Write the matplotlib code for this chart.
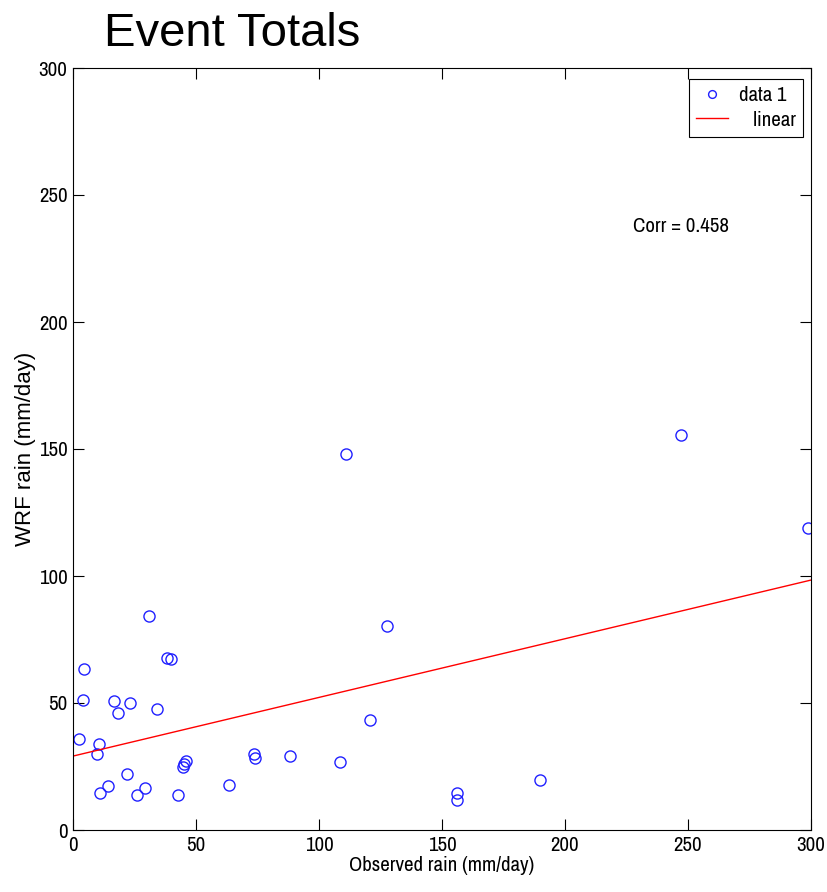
import matplotlib
matplotlib.use("Agg")
import matplotlib.pyplot as plt
import numpy as np
from matplotlib import font_manager as fm

# ---- data ----
obs_rain = [2.4, 4.5, 4.2, 9.8, 10.6, 11.0, 14.2, 16.7, 18.3, 22.0, 23.2, 26.0,
            29.3, 30.9, 34.0, 38.2, 39.8, 42.7, 44.7, 45.1, 46.0, 63.4, 73.6,
            74.0, 88.2, 108.6, 110.9, 120.8, 127.6, 156.0, 156.3, 189.9, 247.0, 298.6]
wrf_rain = [35.8, 63.4, 51.0, 30.0, 34.0, 14.6, 17.3, 50.8, 46.0, 22.0, 50.0, 13.8,
            16.5, 84.3, 47.6, 67.7, 67.3, 13.8, 24.8, 26.0, 27.2, 17.7, 30.0,
            28.3, 29.1, 26.7, 148.0, 43.2, 80.4, 14.5, 11.9, 19.8, 155.4, 118.9]
fit_intercept = 29.1
fit_slope = 0.231
corr_value = 0.458
x_ticks = [0, 50, 100, 150, 200, 250, 300]
y_ticks = [0, 50, 100, 150, 200, 250, 300]

installed = {f.name for f in fm.fontManager.ttflist}
narrow_candidates = ["Liberation Sans Narrow", "Arial Narrow", "Archivo Narrow",
                     "PT Sans Narrow", "Roboto Condensed", "Arimo", "Liberation Sans"]
narrow = next(n for n in narrow_candidates if n in installed)
NARROW = [narrow, "Liberation Sans", "DejaVu Sans"]
REG = ["Liberation Sans", "DejaVu Sans"]

W, H = 828, 892
fig = plt.figure(figsize=(W / 100, H / 100), dpi=100)
ax = fig.add_axes([73 / W, (H - 830) / H, 738 / W, 762 / H])

ax.plot(obs_rain, wrf_rain, linestyle="none", marker="o", markersize=8,
        markerfacecolor="none", markeredgecolor="#2020ff", markeredgewidth=1.0,
        label="data 1")
xl = np.array([0, 300])
ax.plot(xl, fit_intercept + fit_slope * xl, color="red", linewidth=1.0,
        label="   linear")

ax.set_xlim(0, 300)
ax.set_ylim(0, 300)
ax.set_xticks(x_ticks)
ax.set_yticks(y_ticks)
ax.tick_params(direction="in", top=True, right=True, length=8, width=0.8,
               labelsize=15, pad=4)
for lab in ax.get_xticklabels() + ax.get_yticklabels():
    lab.set_fontfamily(NARROW)
for s in ax.spines.values():
    s.set_linewidth(0.8)

ax.set_xlabel("Observed rain (mm/day)", fontsize=15, family=NARROW, labelpad=1)
ax.set_ylabel("WRF rain (mm/day)", fontsize=16, family=REG, labelpad=2)

fig.text(633 / W, 1 - 227 / H, f"Corr = {corr_value}", fontsize=15,
         family=NARROW, va="center", ha="left")

leg = ax.legend(loc="upper right", bbox_to_anchor=(803 / W, 1 - 79 / H),
                bbox_transform=fig.transFigure, prop={"family": NARROW, "size": 15},
                frameon=True, fancybox=False, edgecolor="black", framealpha=1,
                borderaxespad=0, handlelength=1.55, labelspacing=0.25, borderpad=0.35,
                markerscale=0.7, handletextpad=0.5)
leg.get_frame().set_linewidth(0.8)

fig.text(104 / W, 1 - 46 / H, "Event Totals", fontsize=34, family=REG,
         va="baseline", ha="left")

fig.savefig("out.png", dpi=100)
